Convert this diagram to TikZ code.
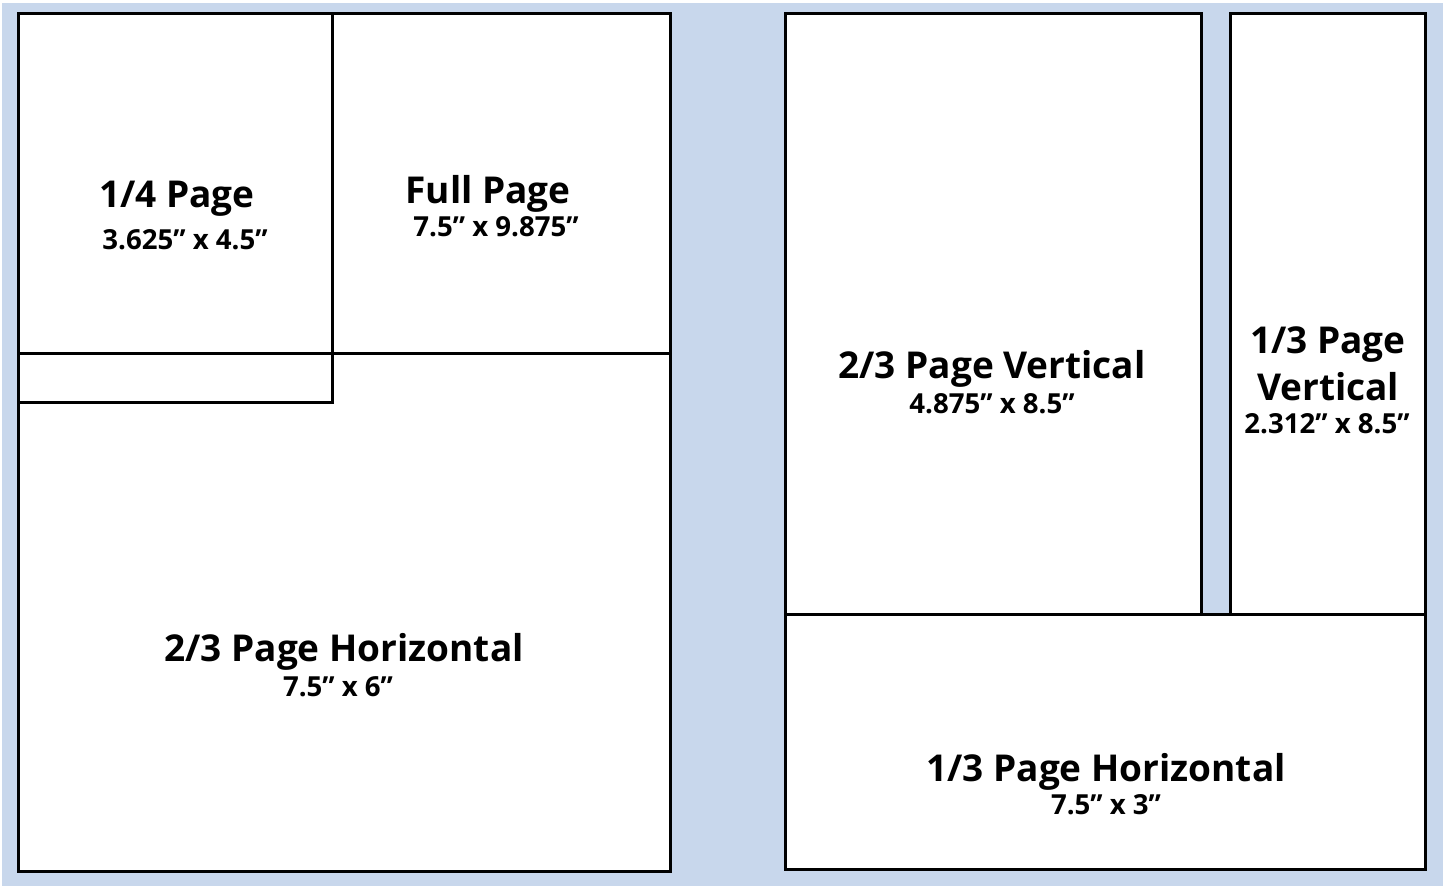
\documentclass[tikz,border=0pt]{standalone}
\usepackage{fontspec}
\setmainfont{Open Sans}
\definecolor{pageblue}{RGB}{200,215,236}
\tikzset{
  adbox/.style={draw=black, line width=1.5pt, fill=white},
  adline/.style={draw=black, line width=1.5pt},
  adtitle/.style={font=\bfseries\fontsize{18.5}{23.5}\selectfont, align=center, inner sep=0pt},
  adsize/.style={font=\bfseries\fontsize{13.8}{15}\selectfont, inner sep=0pt}
}
\begin{document}
\begin{tikzpicture}[x=0.5pt, y=-0.5pt]
    % Background
    \fill[white] (0,0) rectangle (1443,886);
    \fill[pageblue] (2,3) rectangle (1443,886);
    \useasboundingbox (0,0) rectangle (1443,886);

    % Left page
    \draw[adbox] (18,14) rectangle (670,871);
    \draw[adline] (18,354) -- (670,354);
    \draw[adline] (18,403) -- (332,403) -- (332,14);

    % Right page
    \draw[adbox] (785,14) rectangle (1201,614);
    \draw[adbox] (1230,14) rectangle (1425,614);
    \draw[adbox] (785,614) rectangle (1425,869);

    % Labels
    \node[adtitle] (quarter) at (177,199) {1/4 Page};
    \node[adsize] (quartersize) at (185,240) {3.625” x 4.5”};

    \node[adtitle] (full) at (488,194) {Full Page};
    \node[adsize] (fullsize) at (496,227) {7.5” x 9.875”};

    \node[adtitle] (twohoriz) at (344,652) {2/3 Page Horizontal};
    \node[adsize] (twohorizsize) at (338,687) {7.5” x 6”};

    \node[adtitle] (twovert) at (992,369) {2/3 Page Vertical};
    \node[adsize] (twovertsize) at (992,404) {4.875” x 8.5”};

    \node[adtitle] (onevert) at (1328,364) {1/3 Page\\Vertical};
    \node[adsize] (onevertsize) at (1327,424) {2.312” x 8.5”};

    \node[adtitle] (onehoriz) at (1106,772) {1/3 Page Horizontal};
    \node[adsize] (onehorizsize) at (1106,805) {7.5” x 3”};
\end{tikzpicture}
\end{document}
